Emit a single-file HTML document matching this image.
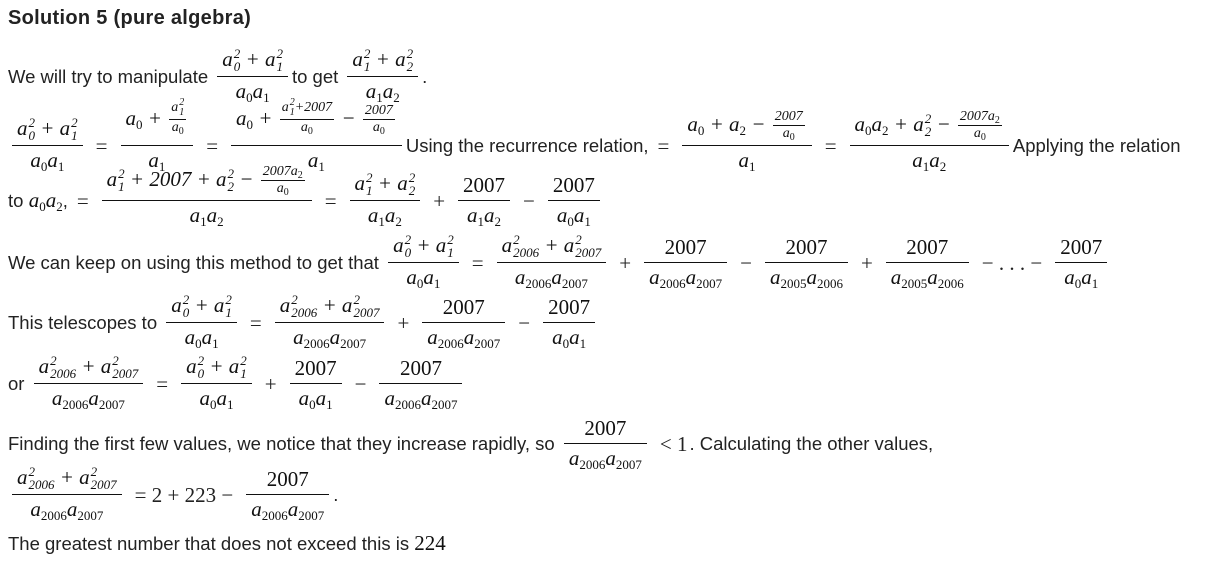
<!DOCTYPE html>
<html><head><meta charset="utf-8">
<style>
body{margin:0;width:1212px;height:566px;background:#fff;position:relative;font-family:"Liberation Sans",sans-serif;color:#222;font-size:18.5px;overflow:hidden}
.row{position:absolute;left:8px;height:80px;display:flex;align-items:center;white-space:nowrap}
.m{font-family:"Liberation Serif",serif;font-size:21px;color:#111;line-height:1.1}
.i{font-style:italic}
.f{display:inline-grid;grid-template-rows:1fr 1fr;justify-items:center;vertical-align:middle;margin:0 4px}
.f>.n{align-self:end;padding:0 5px 3px;border-bottom:1px solid #111;text-align:center;justify-self:stretch}
.f>.d{align-self:start;padding:3px 5px 0;text-align:center}
.f.s{font-size:14px;margin:0 2px;line-height:1}
.f.s>.n{padding:0 2px 1px}
.f.s>.d{padding:1px 2px 0}
.op{margin:0 9px;font-family:"Liberation Serif",serif;font-size:21px}
.ss{display:inline-flex;flex-direction:column;align-items:flex-start;font-size:13px;line-height:1.0;vertical-align:8px;font-style:normal;margin-left:1px}
.f.s .ss{font-size:10px;vertical-align:6px}
sub{font-size:13px;font-style:normal;vertical-align:-4px;line-height:0}
.f.s sub{font-size:10px;vertical-align:-3px}
</style></head><body>
<div style="position:absolute;left:8px;top:7px;font-weight:bold;font-size:20px;letter-spacing:0.3px">Solution 5 (pure algebra)</div>

<div class="row" style="top:37px">We will try to manipulate&nbsp;<span class="f m"><span class="n i">a<span class="ss"><i>2</i><i>0</i></span> + a<span class="ss"><i>2</i><i>1</i></span></span><span class="d i">a<sub>0</sub>a<sub>1</sub></span></span>to get&nbsp;<span class="f m"><span class="n i">a<span class="ss"><i>2</i><i>1</i></span> + a<span class="ss"><i>2</i><i>2</i></span></span><span class="d i">a<sub>1</sub>a<sub>2</sub></span></span>.</div>

<div class="row" style="top:106px"><span class="f m"><span class="n i">a<span class="ss"><i>2</i><i>0</i></span> + a<span class="ss"><i>2</i><i>1</i></span></span><span class="d i">a<sub>0</sub>a<sub>1</sub></span></span><span class="op">=</span><span class="f m"><span class="n i">a<sub>0</sub> + <span class="f s"><span class="n">a<span class="ss"><i>2</i><i>1</i></span></span><span class="d">a<sub>0</sub></span></span></span><span class="d i">a<sub>1</sub></span></span><span class="op">=</span><span class="f m"><span class="n i">a<sub>0</sub> + <span class="f s"><span class="n">a<span class="ss"><i>2</i><i>1</i></span>+2007</span><span class="d">a<sub>0</sub></span></span> − <span class="f s"><span class="n">2007</span><span class="d">a<sub>0</sub></span></span></span><span class="d i">a<sub>1</sub></span></span>Using the recurrence relation,<span class="op">=</span><span class="f m"><span class="n i">a<sub>0</sub> + a<sub>2</sub> − <span class="f s"><span class="n">2007</span><span class="d">a<sub>0</sub></span></span></span><span class="d i">a<sub>1</sub></span></span><span class="op">=</span><span class="f m"><span class="n i">a<sub>0</sub>a<sub>2</sub> + a<span class="ss"><i>2</i><i>2</i></span> − <span class="f s"><span class="n">2007a<sub>2</sub></span><span class="d">a<sub>0</sub></span></span></span><span class="d i">a<sub>1</sub>a<sub>2</sub></span></span>Applying the relation</div>

<div class="row" style="top:161px">to <span class="m i">&nbsp;a<sub>0</sub>a<sub>2</sub></span>,<span class="op">=</span><span class="f m"><span class="n i">a<span class="ss"><i>2</i><i>1</i></span> + 2007 + a<span class="ss"><i>2</i><i>2</i></span> − <span class="f s"><span class="n">2007a<sub>2</sub></span><span class="d">a<sub>0</sub></span></span></span><span class="d i">a<sub>1</sub>a<sub>2</sub></span></span><span class="op">=</span><span class="f m"><span class="n i">a<span class="ss"><i>2</i><i>1</i></span> + a<span class="ss"><i>2</i><i>2</i></span></span><span class="d i">a<sub>1</sub>a<sub>2</sub></span></span><span class="op">+</span><span class="f m"><span class="n">2007</span><span class="d i">a<sub>1</sub>a<sub>2</sub></span></span><span class="op">−</span><span class="f m"><span class="n">2007</span><span class="d i">a<sub>0</sub>a<sub>1</sub></span></span></div>

<div class="row" style="top:223px">We can keep on using this method to get that&nbsp;<span class="f m"><span class="n i">a<span class="ss"><i>2</i><i>0</i></span> + a<span class="ss"><i>2</i><i>1</i></span></span><span class="d i">a<sub>0</sub>a<sub>1</sub></span></span><span class="op">=</span><span class="f m"><span class="n i">a<span class="ss"><i>2</i><i>2006</i></span> + a<span class="ss"><i>2</i><i>2007</i></span></span><span class="d i">a<sub>2006</sub>a<sub>2007</sub></span></span><span class="op">+</span><span class="f m"><span class="n">2007</span><span class="d i">a<sub>2006</sub>a<sub>2007</sub></span></span><span class="op">−</span><span class="f m"><span class="n">2007</span><span class="d i">a<sub>2005</sub>a<sub>2006</sub></span></span><span class="op">+</span><span class="f m"><span class="n">2007</span><span class="d i">a<sub>2005</sub>a<sub>2006</sub></span></span><span class="op">− . . . −</span><span class="f m"><span class="n">2007</span><span class="d i">a<sub>0</sub>a<sub>1</sub></span></span></div>

<div class="row" style="top:283px">This telescopes to&nbsp;<span class="f m"><span class="n i">a<span class="ss"><i>2</i><i>0</i></span> + a<span class="ss"><i>2</i><i>1</i></span></span><span class="d i">a<sub>0</sub>a<sub>1</sub></span></span><span class="op">=</span><span class="f m"><span class="n i">a<span class="ss"><i>2</i><i>2006</i></span> + a<span class="ss"><i>2</i><i>2007</i></span></span><span class="d i">a<sub>2006</sub>a<sub>2007</sub></span></span><span class="op">+</span><span class="f m"><span class="n">2007</span><span class="d i">a<sub>2006</sub>a<sub>2007</sub></span></span><span class="op">−</span><span class="f m"><span class="n">2007</span><span class="d i">a<sub>0</sub>a<sub>1</sub></span></span></div>

<div class="row" style="top:344px">or&nbsp;<span class="f m"><span class="n i">a<span class="ss"><i>2</i><i>2006</i></span> + a<span class="ss"><i>2</i><i>2007</i></span></span><span class="d i">a<sub>2006</sub>a<sub>2007</sub></span></span><span class="op">=</span><span class="f m"><span class="n i">a<span class="ss"><i>2</i><i>0</i></span> + a<span class="ss"><i>2</i><i>1</i></span></span><span class="d i">a<sub>0</sub>a<sub>1</sub></span></span><span class="op">+</span><span class="f m"><span class="n">2007</span><span class="d i">a<sub>0</sub>a<sub>1</sub></span></span><span class="op">−</span><span class="f m"><span class="n">2007</span><span class="d i">a<sub>2006</sub>a<sub>2007</sub></span></span></div>

<div class="row" style="top:404px">Finding the first few values, we notice that they increase rapidly, so&nbsp;<span class="f m"><span class="n">2007</span><span class="d i">a<sub>2006</sub>a<sub>2007</sub></span></span><span class="op" style="margin-right:2px">&lt; 1</span>. Calculating the other values,</div>

<div class="row" style="top:455px"><span class="f m"><span class="n i">a<span class="ss"><i>2</i><i>2006</i></span> + a<span class="ss"><i>2</i><i>2007</i></span></span><span class="d i">a<sub>2006</sub>a<sub>2007</sub></span></span><span class="op">= 2 + 223 −</span><span class="f m"><span class="n">2007</span><span class="d i">a<sub>2006</sub>a<sub>2007</sub></span></span>.</div>

<div style="position:absolute;left:8px;top:532px">The greatest number that does not exceed this is <span class="m">224</span></div>
</body></html>
